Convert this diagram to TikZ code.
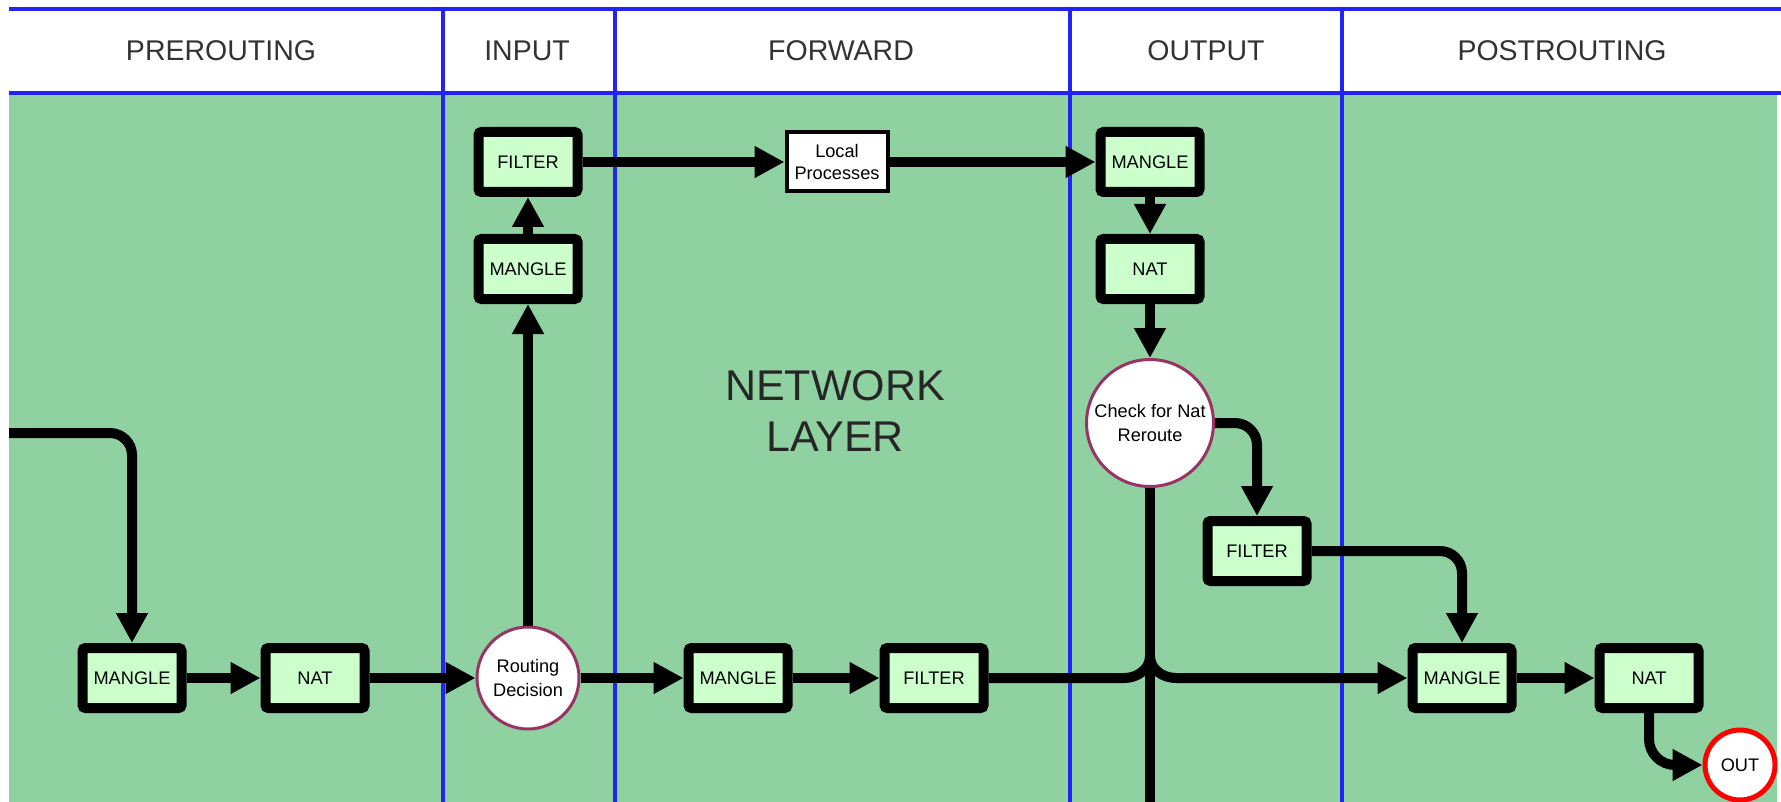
\documentclass[tikz,border=0pt]{standalone}
\usepackage{fontspec}
\setmainfont{Liberation Sans}
\usetikzlibrary{arrows.meta}
\usetikzlibrary{calc}

\definecolor{layergreen}{RGB}{143,209,160}
\definecolor{boxgreen}{RGB}{204,255,204}
\definecolor{laneblue}{RGB}{35,35,245}
\definecolor{ringred}{RGB}{153,51,102}

\begin{document}
\begin{tikzpicture}[x = 0.5pt, y = -0.5pt,
        table/.style = {draw = black, line width = 5pt, fill = boxgreen, rounded corners = 1.5pt,
            minimum width = 49.5pt, minimum height = 30pt, inner sep = 0pt, font = \fontsize{9.1}{11}\selectfont},
        local/.style = {draw = black, line width = 2pt, fill = white, minimum width = 50.5pt,
            minimum height = 29.5pt, inner sep = 0pt, align = center, font = \fontsize{9.1}{11}\selectfont},
        decision/.style = {circle, draw = ringred, line width = 1.5pt, fill = white, inner sep = 0pt,
            align = center, font = \fontsize{9.1}{12}\selectfont},
        flow/.style = {line width = 5pt, -{Triangle[length = 15pt, width = 15pt]}},
        laneline/.style = {line width = 1.6pt, draw = laneblue},
        lanetitle/.style = {text = black!80, font = \fontsize{14.25}{16}\selectfont}]
            \useasboundingbox (0,0) rectangle (1781,802);
            \fill[layergreen] (9,93) rectangle (1777,802);
            \draw[laneline] (9,9) -- (1781,9);
            \draw[laneline] (9,93) -- (1781,93);
            \foreach \x in {443, 615, 1070, 1342}
                \draw[laneline] (\x,9) -- (\x,802);
            \node[lanetitle] (pre) at (221,51) {PREROUTING};
            \node[lanetitle] (inp) at (527,51) {INPUT};
            \node[lanetitle] (fwd) at (841,51) {FORWARD};
            \node[lanetitle] (outp) at (1206,51) {OUTPUT};
            \node[lanetitle] (post) at (1562,51) {POSTROUTING};
            \node[align = center, text = black!85, font = \fontsize{21.5}{25.5}\selectfont] (layer) at (835,411) {NETWORK\\LAYER};
            \node[table] (mangleA) at (132,678) {MANGLE};
            \node[table] (natA) at (315,678) {NAT};
            \node[decision, minimum size = 51pt] (route) at (528,678) {Routing\\Decision};
            \node[table] (mangleB) at (528,269) {MANGLE};
            \node[table] (filterB) at (528,162) {FILTER};
            \node[local] (local) at (837,162) {Local\\Processes};
            \node[table] (mangleC) at (1150,162) {MANGLE};
            \node[table] (natC) at (1150,269) {NAT};
            \node[decision, minimum size = 63.5pt] (check) at (1150,423) {Check for Nat\\Reroute};
            \node[table] (filterC) at (1257,551) {FILTER};
            \node[table] (mangleD) at (738,678) {MANGLE};
            \node[table] (filterD) at (934,678) {FILTER};
            \node[table] (mangleE) at (1462,678) {MANGLE};
            \node[table] (natE) at (1649,678) {NAT};
            \node[decision, draw = red, line width = 2.5pt, minimum size = 35pt] (out) at (1740,765) {OUT};
            \coordinate (entry) at (9,433);
            \coordinate (drop) at (1150,802);
            \draw[flow, rounded corners = 11pt] (entry) -| (mangleA);
            \draw[flow] (mangleA) -- (natA);
            \draw[flow] (natA) -- (route);
            \draw[flow] (route) -- (mangleB);
            \draw[flow] (mangleB) -- (filterB);
            \draw[flow] (filterB) -- (local);
            \draw[flow] (local) -- (mangleC);
            \draw[flow] (mangleC) -- (natC);
            \draw[flow] (natC) -- (check);
            \draw[flow, rounded corners = 11pt] (check) -| (filterC);
            \draw[line width = 5pt] (check) -- (drop);
            \draw[flow] (route) -- (mangleD);
            \draw[flow] (mangleD) -- (filterD);
            \draw[flow] (filterD) -- (1124,678) to[out = 0, in = -90] (1150,656) to[out = -90, in = 180] (1176,678) -- (mangleE);
            \draw[flow, rounded corners = 11pt] (filterC) -| (mangleE);
            \draw[flow] (mangleE) -- (natE);
            \draw[flow, rounded corners = 13pt] (natE) |- (out);
\end{tikzpicture}
\end{document}
